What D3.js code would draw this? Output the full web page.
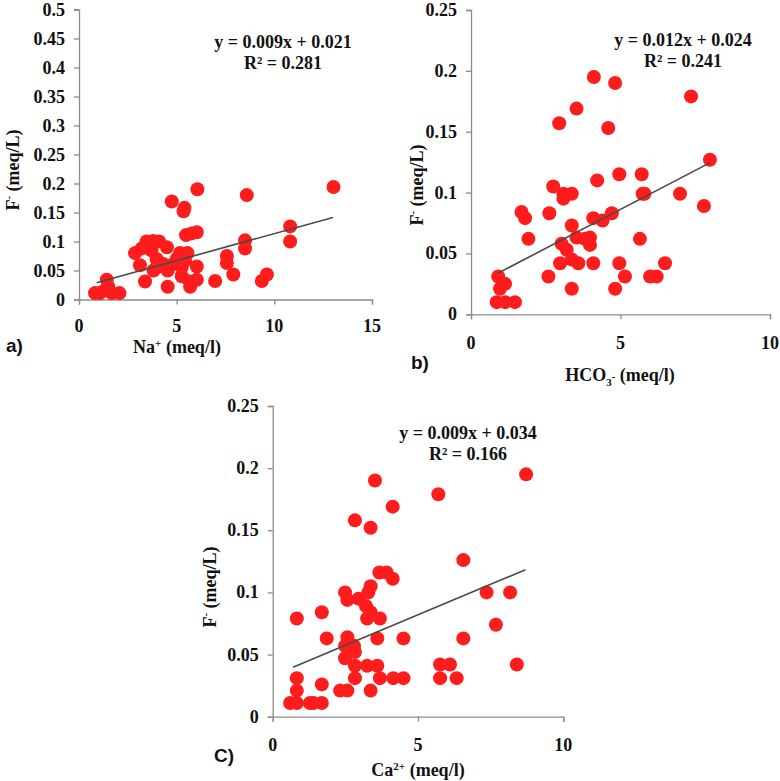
<!DOCTYPE html>
<html>
<head>
<meta charset="utf-8">
<title>F- scatter plots</title>
<script src="https://cdn.jsdelivr.net/npm/d3@7"></script>
<style>
  body { margin: 0; background: #fff; }
  text { font-family: "Liberation Serif", "Times New Roman", serif; font-weight: bold; fill: #111; }
  .tag { font-family: "Liberation Sans", Arial, sans-serif; }
</style>
</head>
<body>
<svg width="780" height="781"></svg>
<script>
// panel a) Na+ vs F-
const naX = [0.82,1.07,1.42,1.5,1.67,1.33,2.07,2.87,3.12,3.38,3.21,3.46,3.8,4.1,3.71,3.97,3.97,3.81,4.5,4.32,4.54,4.54,4.75,4.83,5.0,5.17,5.26,5.26,5.43,5.55,5.4,5.35,5.48,5.77,6.03,6.06,6.03,5.69,5.66,6.03,6.97,7.57,7.57,7.9,8.59,8.5,8.5,9.36,9.62,10.81,10.81,13.03]
const naF = [0.011,0.011,0.034,0.022,0.011,0.016,0.011,0.08,0.059,0.031,0.088,0.1,0.101,0.1,0.085,0.07,0.055,0.05,0.09,0.061,0.05,0.022,0.169,0.061,0.07,0.08,0.056,0.04,0.067,0.08,0.158,0.152,0.111,0.114,0.116,0.19,0.057,0.022,0.031,0.034,0.032,0.075,0.063,0.043,0.18,0.102,0.088,0.032,0.043,0.126,0.1,0.194]

// panel b) HCO3- vs F-
const hcoX = [0.91,0.97,1.14,0.86,1.14,1.47,1.69,1.81,1.92,2.59,2.62,2.75,2.95,2.98,3.09,3.09,3.37,3.03,3.2,3.37,3.37,3.37,3.53,3.53,3.59,3.81,3.98,3.98,4.09,4.11,4.09,4.22,4.4,4.59,4.71,4.82,4.82,4.96,4.96,5.15,5.65,5.71,5.74,5.8,5.99,6.21,6.49,6.99,7.36,7.79,7.99]
const hcoF = [0.031,0.021,0.025,0.01,0.01,0.01,0.084,0.079,0.062,0.031,0.083,0.105,0.157,0.042,0.099,0.095,0.099,0.058,0.053,0.073,0.045,0.021,0.169,0.063,0.042,0.062,0.057,0.063,0.042,0.195,0.079,0.11,0.077,0.153,0.083,0.19,0.021,0.115,0.042,0.031,0.062,0.115,0.099,0.099,0.031,0.031,0.042,0.099,0.179,0.089,0.127]

// panel C) Ca2+ vs F-
const caX = [0.6,0.83,0.83,0.83,0.83,1.28,1.4,1.69,1.69,1.69,1.86,2.32,2.57,2.49,2.57,2.57,2.49,2.49,2.8,2.83,2.83,2.83,2.83,2.95,3.21,3.29,3.37,3.25,3.37,3.25,3.37,3.37,3.52,3.6,3.6,3.69,3.69,3.67,3.92,4.13,4.13,4.15,4.5,4.5,5.7,5.76,5.76,6.1,6.33,6.56,6.56,7.36,7.68,8.17,8.4,8.72]
const caF = [0.011,0.011,0.021,0.031,0.079,0.011,0.011,0.011,0.026,0.084,0.063,0.021,0.021,0.1,0.094,0.064,0.057,0.047,0.057,0.052,0.041,0.031,0.158,0.095,0.089,0.1,0.105,0.079,0.084,0.041,0.152,0.021,0.19,0.063,0.041,0.031,0.079,0.116,0.116,0.111,0.169,0.031,0.031,0.063,0.179,0.042,0.031,0.042,0.031,0.126,0.063,0.1,0.074,0.1,0.042,0.195]

// trend lines: [slope, intercept, xStart, xEnd]
const trendA = [0.0093, 0.0206, 0.9, 13.0]
const trendB = [0.0128, 0.0222, 0.9, 8.0]
const trendC = [0.0098, 0.033, 0.7, 8.7]

const eqA = ["y = 0.009x + 0.021", "R² = 0.281"]
const eqB = ["y = 0.012x + 0.024", "R² = 0.241"]
const eqC = ["y = 0.009x + 0.034", "R² = 0.166"]

const xTicksA = [0, 5, 10, 15]
const xTicksB = [0, 5, 10]
const yTicksA = [0, 0.05, 0.1, 0.15, 0.2, 0.25, 0.3, 0.35, 0.4, 0.45, 0.5]
const yTicksB = [0, 0.05, 0.1, 0.15, 0.2, 0.25]

const svg = d3.select("svg")
const fmt = d => String(+d.toFixed(2))

function drawPanel(p) {
  const x = d3.scaleLinear().domain(p.xDom).range([p.left, p.right])
  const y = d3.scaleLinear().domain(p.yDom).range([p.bottom, p.top])
  const g = svg.append("g")

  // axes
  g.append("g")
    .attr("transform", "translate(0," + p.bottom + ")")
    .call(d3.axisBottom(x).tickValues(p.xTicks).tickSize(5).tickFormat(""))
  g.append("g")
    .attr("transform", "translate(" + p.left + ",0)")
    .call(d3.axisLeft(y).tickValues(p.yTicks).tickSize(5).tickFormat(""))
  g.selectAll(".domain, .tick line").attr("stroke", "#8c8c8c").attr("stroke-width", 1.3)

  // tick labels
  g.selectAll(".xlab").data(p.xTicks).join("text")
    .attr("x", d => x(d)).attr("y", p.xLabY)
    .attr("text-anchor", "middle").attr("font-size", 18)
    .text(d => d)
  g.selectAll(".ylab").data(p.yTicks).join("text")
    .attr("x", p.left - 14).attr("y", d => y(d) + 6)
    .attr("text-anchor", "end").attr("font-size", 18)
    .text(fmt)

  // points
  g.selectAll("circle").data(p.xs).join("circle")
    .attr("cx", d => x(d))
    .attr("cy", (d, i) => y(p.ys[i]))
    .attr("r", 7)
    .attr("fill", "#ff1c1c")

  // trend line
  const t = p.trend
  g.append("line")
    .attr("x1", x(t[2])).attr("y1", y(t[0] * t[2] + t[1]))
    .attr("x2", x(t[3])).attr("y2", y(t[0] * t[3] + t[1]))
    .attr("stroke", "#4a4a4a").attr("stroke-width", 1.6)

  // equation
  g.append("text").attr("x", p.eqX).attr("y", p.eqY)
    .attr("text-anchor", "middle").attr("font-size", 18).text(p.eq[0])
  g.append("text").attr("x", p.eqX).attr("y", p.eqY + 21)
    .attr("text-anchor", "middle").attr("font-size", 18).text(p.eq[1])

  // y title F- (meq/L)
  const yt = g.append("text")
    .attr("transform", "translate(" + p.yTitleX + "," + p.yTitleY + ") rotate(-90)")
    .attr("text-anchor", "middle").attr("font-size", 18)
  yt.append("tspan").text("F")
  yt.append("tspan").attr("font-size", 11).attr("dy", -7).text("-")
  yt.append("tspan").attr("dy", 7).text(" (meq/L)")

  // x title
  const xt = g.append("text")
    .attr("x", p.xTitleX).attr("y", p.xTitleY)
    .attr("text-anchor", "middle").attr("font-size", 18)
  for (const s of p.xTitle) {
    const ts = xt.append("tspan").text(s[0])
    if (s[1] == "sup") ts.attr("font-size", 11).attr("dy", -6)
    if (s[1] == "sub") ts.attr("font-size", 11).attr("dy", 5)
    if (s[1] == "back") ts.attr("dy", s[2])
  }

  g.append("text").attr("class", "tag")
    .attr("x", p.tagX).attr("y", p.tagY).attr("font-size", 19)
    .text(p.tag)
}

drawPanel({
  xs: naX, ys: naF, trend: trendA, eq: eqA,
  xDom: [0, 15], yDom: [0, 0.5], xTicks: xTicksA, yTicks: yTicksA,
  left: 79, right: 372, top: 9.5, bottom: 299.5,
  xLabY: 332, eqX: 283, eqY: 48,
  yTitleX: 19, yTitleY: 170,
  xTitle: [["Na"], ["+", "sup"], [" (meq/l)", "back", 6]], xTitleX: 177, xTitleY: 353,
  tag: "a)", tagX: 6, tagY: 352
})

drawPanel({
  xs: hcoX, ys: hcoF, trend: trendB, eq: eqB,
  xDom: [0, 10], yDom: [0, 0.25], xTicks: xTicksB, yTicks: yTicksB,
  left: 471, right: 770, top: 10, bottom: 314.3,
  xLabY: 349, eqX: 683, eqY: 46,
  yTitleX: 423, yTitleY: 185,
  xTitle: [["HCO"], ["3", "sub"], ["-", "sup"], [" (meq/l)", "back", 1]], xTitleX: 620, xTitleY: 381,
  tag: "b)", tagX: 411, tagY: 369
})

drawPanel({
  xs: caX, ys: caF, trend: trendC, eq: eqC,
  xDom: [0, 10], yDom: [0, 0.25], xTicks: xTicksB, yTicks: yTicksB,
  left: 272.7, right: 563.3, top: 406, bottom: 716.7,
  xLabY: 751, eqX: 468, eqY: 439,
  yTitleX: 216, yTitleY: 587,
  xTitle: [["Ca"], ["2+", "sup"], [" (meq/l)", "back", 6]], xTitleX: 418, xTitleY: 776,
  tag: "C)", tagX: 214, tagY: 762
})
</script>
</body>
</html>
